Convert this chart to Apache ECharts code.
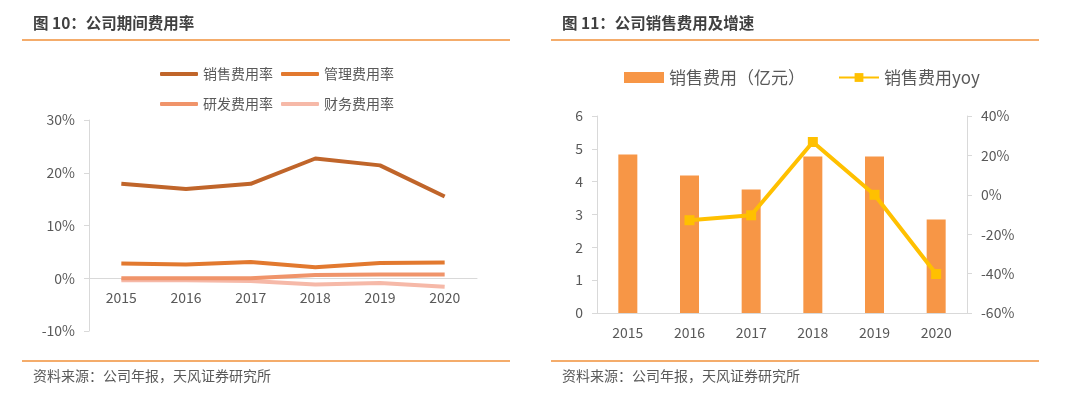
<!DOCTYPE html>
<html><head><meta charset="utf-8">
<script src="https://cdn.jsdelivr.net/npm/echarts@6/dist/echarts.min.js"></script>
<style>html,body{margin:0;padding:0;background:#fff}#c{width:1080px;height:397px}</style>
</head><body><div id="c"></div>
<script>
const years = ['2015','2016','2017','2018','2019','2020'];
const salesRate = [17.9, 16.9, 17.9, 22.7, 21.4, 15.5];
const mgmtRate = [2.8, 2.6, 3.1, 2.1, 2.9, 3.0];
const rdRate = [0.0, 0.0, 0.0, 0.6, 0.7, 0.7];
const finRate = [-0.4, -0.4, -0.5, -1.2, -0.9, -1.6];
const salesExp = [4.83, 4.19, 3.76, 4.77, 4.77, 2.85];
const salesYoy = [null, -12.9, -10.4, 26.8, 0.0, -40.2];

const FONT = '"Noto Sans CJK SC", "Microsoft YaHei", sans-serif';
const TXT = '#595959';
const AX = '#d9d9d9';
const RULE = '#f0913a';

const chart = echarts.init(document.getElementById('c'));
const lineS = (name, data, color) => ({
  name, type: 'line', data, xAxisIndex: 0, yAxisIndex: 0,
  symbol: 'none', lineStyle: { width: 4, color }, itemStyle: { color }, z: 3
});
chart.setOption({
  animation: false,
  textStyle: { fontFamily: FONT },
  graphic: [
    { type: 'text', left: 33, top: 15, style: { text: '图 10：公司期间费用率', font: 'bold 15.5px ' + FONT, fill: '#404040' } },
    { type: 'text', left: 562, top: 15, style: { text: '图 11：公司销售费用及增速', font: 'bold 15.5px ' + FONT, fill: '#404040' } },
    { type: 'line', shape: { x1: 22, y1: 40, x2: 510, y2: 40 }, style: { stroke: RULE, lineWidth: 1.5 } },
    { type: 'line', shape: { x1: 551, y1: 40, x2: 1039, y2: 40 }, style: { stroke: RULE, lineWidth: 1.5 } },
    { type: 'line', shape: { x1: 22, y1: 361, x2: 510, y2: 361 }, style: { stroke: RULE, lineWidth: 1.5 } },
    { type: 'line', shape: { x1: 551, y1: 361, x2: 1039, y2: 361 }, style: { stroke: RULE, lineWidth: 1.5 } },
    { type: 'text', left: 33, top: 369, style: { text: '资料来源：公司年报，天风证券研究所', font: '14px ' + FONT, fill: TXT } },
    { type: 'text', left: 562, top: 369, style: { text: '资料来源：公司年报，天风证券研究所', font: '14px ' + FONT, fill: TXT } }
  ],
  legend: [
    { data: ['销售费用率', '管理费用率'], left: 155, top: 62, itemWidth: 38, itemHeight: 4, itemGap: 8, icon: 'roundRect',
      textStyle: { fontSize: 14, color: TXT, fontFamily: FONT } },
    { data: ['研发费用率', '财务费用率'], left: 155, top: 92, itemWidth: 38, itemHeight: 4, itemGap: 8, icon: 'roundRect',
      textStyle: { fontSize: 14, color: TXT, fontFamily: FONT } },
    { data: [{ name: '销售费用（亿元）', icon: 'rect' }, { name: '销售费用yoy' }], left: 619, top: 64, itemWidth: 40, itemHeight: 11, itemGap: 33,
      textStyle: { fontSize: 17, color: TXT, fontFamily: FONT } }
  ],
  grid: [
    { left: 89, right: 603, top: 120, bottom: 66 },
    { left: 597, right: 113, top: 116, bottom: 84 }
  ],
  xAxis: [
    { type: 'category', data: years, gridIndex: 0, offset: -52.75,
      axisLine: { onZero: false, lineStyle: { color: AX } }, axisTick: { show: false },
      axisLabel: { color: TXT, fontSize: 14, margin: 12 } },
    { type: 'category', data: years, gridIndex: 1,
      axisLine: { lineStyle: { color: AX } }, axisTick: { show: false },
      axisLabel: { color: TXT, fontSize: 14, margin: 13 } }
  ],
  yAxis: [
    { type: 'value', gridIndex: 0, min: -10, max: 30, interval: 10,
      axisLine: { show: true, lineStyle: { color: AX } }, axisTick: { show: true, length: 5, lineStyle: { color: AX } },
      splitLine: { show: false }, axisLabel: { color: TXT, fontSize: 14, margin: 14, formatter: '{value}%' } },
    { type: 'value', gridIndex: 1, min: 0, max: 6, interval: 1, position: 'left',
      axisLine: { show: true, lineStyle: { color: AX } }, axisTick: { show: true, length: 5, lineStyle: { color: AX } },
      splitLine: { show: false }, axisLabel: { color: TXT, fontSize: 14, margin: 14 } },
    { type: 'value', gridIndex: 1, min: -60, max: 40, interval: 20, position: 'right',
      axisLine: { show: true, lineStyle: { color: AX } }, axisTick: { show: true, length: 5, lineStyle: { color: AX } },
      splitLine: { show: false }, axisLabel: { color: TXT, fontSize: 14, margin: 14, formatter: '{value}%' } }
  ],
  series: [
    lineS('财务费用率', finRate, '#f6b9a8'),
    lineS('研发费用率', rdRate, '#f0946a'),
    lineS('管理费用率', mgmtRate, '#e2792f'),
    lineS('销售费用率', salesRate, '#c0652a'),
    { name: '销售费用（亿元）', type: 'bar', data: salesExp, xAxisIndex: 1, yAxisIndex: 1,
      barWidth: 19, itemStyle: { color: '#f79646' } },
    { name: '销售费用yoy', type: 'line', data: salesYoy, xAxisIndex: 1, yAxisIndex: 2,
      symbol: 'rect', symbolSize: 10, lineStyle: { width: 4, color: '#ffc000' }, itemStyle: { color: '#ffc000' }, z: 5 }
  ]
});
</script></body></html>
